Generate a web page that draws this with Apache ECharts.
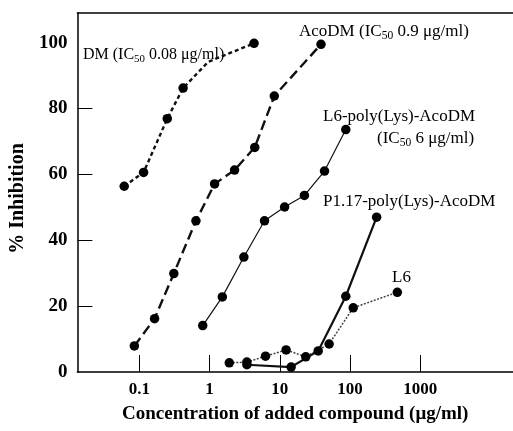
<!DOCTYPE html>
<html>
<head>
<meta charset="utf-8">
<script src="https://cdn.jsdelivr.net/npm/echarts@6/dist/echarts.min.js"></script>
<style>
  html, body { margin: 0; padding: 0; background: #fff; }
  #chart { width: 513px; height: 431px; }
</style>
</head>
<body>
<div id="chart"></div>
<script>
  // concentration in µg/ml, inhibition in %
  const dmConc = [0.061, 0.115, 0.25, 0.42, 0.96, 4.3]
  const dmInh = [56.4, 60.6, 76.9, 86.2, 94.2, 99.8]
  const dmMarked = [true, true, true, true, false, true] // the bend has no dot

  const acoConc = [0.085, 0.165, 0.31, 0.64, 1.18, 2.27, 4.4, 8.35, 38.6]
  const acoInh = [7.9, 16.2, 29.9, 45.9, 57.1, 61.3, 68.2, 83.8, 99.5]

  const l6PolyConc = [0.8, 1.52, 3.08, 6.06, 11.7, 22.4, 43.3, 87]
  const l6PolyInh = [14.1, 22.8, 34.9, 45.9, 50.1, 53.6, 61.0, 73.6]

  const p117Conc = [3.4, 14.5, 35.2, 87, 239]
  const p117Inh = [2.2, 1.5, 6.4, 23.0, 47.0]

  const l6Conc = [1.91, 3.4, 6.26, 12.3, 23.4, 50.4, 111, 471]
  const l6Inh = [2.8, 3.0, 4.8, 6.7, 4.6, 8.5, 19.5, 24.2]

  const xTicks = [0.1, 1, 10, 100, 1000]
  const yLabels = [0, 20, 40, 60, 80, 100]
  const yTicks = [20, 40, 60, 80]

  const serif = "'Liberation Serif', 'DejaVu Serif', serif"

  const pts = (xs, ys, marked) =>
    xs.map((x, i) => ({ value: [x, ys[i]], symbol: marked && !marked[i] ? 'none' : 'circle' }))

  const curve = (name, xs, ys, lineStyle, marked) => ({
    name,
    type: 'line',
    xAxisIndex: 2,
    yAxisIndex: 1,
    data: pts(xs, ys, marked),
    symbolSize: 9.5,
    itemStyle: { color: '#000' },
    lineStyle: Object.assign({ color: '#111' }, lineStyle),
  })

  // text next to the curves, subscript 50 as rich text
  const note = (x, y, size, parts) => ({
    type: 'text',
    x,
    y,
    style: {
      text: parts,
      verticalAlign: 'middle',
      align: 'left',
      rich: {
        t: { fontFamily: serif, fontSize: size, color: '#111', lineHeight: 20, verticalAlign: 'middle' },
        s: { fontFamily: serif, fontSize: size * 0.68, color: '#111', lineHeight: 9, verticalAlign: 'bottom' },
      },
    },
  })

  const chart = echarts.init(document.getElementById('chart'))

  chart.setOption({
    animation: false,
    grid: [
      { left: 71, right: 0, top: 13, bottom: 59 },
      { left: 71, right: 92.7, top: 13, bottom: 59 },
    ],
    xAxis: [
      {
        gridIndex: 0,
        type: 'value',
        min: 0,
        max: 1,
        axisLine: { onZero: false, lineStyle: { color: '#000', width: 1.5 } },
        axisTick: { show: false },
        axisLabel: { show: false },
        splitLine: { show: false },
        name: 'Concentration of added compound (μg/ml)',
        nameLocation: 'middle',
        nameGap: 33,
        nameTextStyle: { fontFamily: serif, fontSize: 19, fontWeight: 'bold', color: '#000' },
      },
      {
        gridIndex: 0,
        type: 'value',
        position: 'top',
        min: 0,
        max: 1,
        axisLine: { onZero: false, lineStyle: { color: '#000', width: 1.5 } },
        axisTick: { show: false },
        axisLabel: { show: false },
        splitLine: { show: false },
      },
      {
        gridIndex: 1,
        type: 'log',
        logBase: 10,
        min: 0.01066,
        max: 1000,
        axisLine: { show: false, onZero: false },
        axisTick: { inside: true, length: 17, lineStyle: { color: '#000', width: 1 } },
        axisLabel: {
          margin: 9,
          showMinLabel: false,
          fontFamily: serif,
          fontSize: 17,
          fontWeight: 'bold',
          color: '#000',
          formatter: (v) => {
            const t = xTicks.find((t) => Math.abs(Math.log10(v / t)) < 1e-6)
            return t === undefined ? '' : String(t)
          },
        },
        splitLine: { show: false },
      },
    ],
    yAxis: [
      {
        gridIndex: 0,
        type: 'value',
        min: 0,
        max: 109,
        axisLine: { show: true, onZero: false, lineStyle: { color: '#000', width: 1.5 } },
        axisTick: { inside: true, length: 15, customValues: yTicks, lineStyle: { color: '#000' } },
        axisLabel: {
          customValues: yLabels,
          margin: 10,
          fontFamily: serif,
          fontSize: 19,
          fontWeight: 'bold',
          color: '#000',
        },
        splitLine: { show: false },
        name: '% Inhibition',
        nameLocation: 'middle',
        nameGap: 42,
        nameTextStyle: { fontFamily: serif, fontSize: 20, fontWeight: 'bold', color: '#000', padding: [0, 12, 0, 0] },
      },
      { gridIndex: 1, type: 'value', min: 0, max: 109, show: false },
    ],
    series: [
      curve('DM', dmConc, dmInh, { width: 2.4, type: [4, 3] }, dmMarked),
      curve('AcoDM', acoConc, acoInh, { width: 2.4, type: [10, 5] }),
      curve('L6-poly(Lys)-AcoDM', l6PolyConc, l6PolyInh, { width: 1.2 }),
      curve('L6', l6Conc, l6Inh, { width: 1.5, type: [2, 1.5], color: '#444' }),
      curve('P1.17-poly(Lys)-AcoDM', p117Conc, p117Inh, { width: 2.2 }),
    ],
    graphic: [
      note(83, 55, 16, '{t|DM (IC}{s|50}{t| 0.08 μg/ml)}'),
      note(299, 32, 17, '{t|AcoDM (IC}{s|50}{t| 0.9 μg/ml)}'),
      note(323, 117, 17, '{t|L6-poly(Lys)-AcoDM}'),
      note(377, 139, 17, '{t|(IC}{s|50}{t| 6 μg/ml)}'),
      note(323, 202, 17, '{t|P1.17-poly(Lys)-AcoDM}'),
      note(392, 278, 17, '{t|L6}'),
    ],
  })
</script>
</body>
</html>
